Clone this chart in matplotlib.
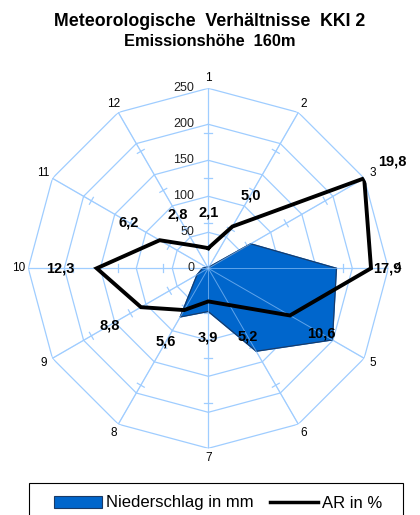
import numpy as np
import matplotlib
matplotlib.use('Agg')
import matplotlib.pyplot as plt
from matplotlib.patches import Patch, Rectangle
from matplotlib.lines import Line2D

plt.rcParams['font.family'] = ['Liberation Sans', 'DejaVu Sans']

# directions 1..12
directions = ['1', '2', '3', '4', '5', '6', '7', '8', '9', '10', '11', '12']
# Niederschlag in mm
niederschlag = [0, 2, 68, 178, 199, 133, 60, 78, 18, 8, 3, 2]
# AR line, plotted on the same 0..250 axis
ar_plot = [28, 67, 250, 226, 131, 59, 46, 67, 108, 155, 78, 36]
ar_labels = ['2,1', '5,0', '19,8', '17,9', '10,6', '5,2', '3,9', '5,6', '8,8', '12,3', '6,2', '2,8']
rings = [50, 100, 150, 200, 250]
minor_ticks = [62.5, 125, 187.5]

grid_col = '#9fcdff'
blue = '#0066cc'

fig = plt.figure(figsize=(4.2, 5.15), dpi=100)
ax = fig.add_axes([28.3 / 420, 66.7 / 515, 360 / 420, 360 / 515], projection='polar')
ax.set_theta_zero_location('N')
ax.set_theta_direction(-1)
ax.set_ylim(0, 250)
ax.grid(False)
ax.spines['polar'].set_visible(False)
ax.set_xticks([])
ax.set_yticks([])
ax.patch.set_alpha(0)

n = len(directions)
theta = np.arange(n) * 2 * np.pi / n
theta_c = np.append(theta, theta[0])

# polygon grid rings and spokes
for r in rings:
    ax.plot(theta_c, [r] * (n + 1), color=grid_col, lw=0.9, zorder=1)
for t in theta:
    ax.plot([t, t], [0, 250], color=grid_col, lw=0.9, zorder=1)
    # small cross ticks on every spoke
    for r in minor_ticks:
        h = 5.5
        dt = np.arctan(h / r)
        rr = np.hypot(r, h)
        ax.plot([t - dt, t + dt], [rr, rr], color=grid_col, lw=0.9, zorder=1)

# Niederschlag area
ns = np.append(niederschlag, niederschlag[0])
ax.fill(theta_c, ns, color=blue, zorder=2)
ax.plot(theta_c, ns, color='#1a3a66', lw=0.8, zorder=2)
# grid shows through the area like in the original
for t in theta:
    ax.plot([t, t], [0, 250], color=grid_col, lw=0.7, alpha=0.6, zorder=2.5)

# AR line
ar = np.append(ar_plot, ar_plot[0])
ax.plot(theta_c, ar, color='black', lw=2.8, solid_joinstyle='miter', zorder=3)

# data labels
for i, (t, r, lab) in enumerate(zip(theta, ar_plot, ar_labels)):
    gap = 36
    dx, dy = gap * np.sin(t), gap * np.cos(t)
    if i == 2:
        dx, dy = 28, 17
    if i == 3:
        dx, dy = 16, 0
    ax.annotate(lab, (t, r), xytext=(dx, dy), textcoords='offset pixels',
                ha='center', va='center', fontsize=10.5, fontweight='bold', zorder=5,
                annotation_clip=False)

# category labels
for t, lab in zip(theta, directions):
    ax.text(t, 264, lab, ha='center', va='center', fontsize=8.5, zorder=4)

# value axis labels
for r in [0] + rings:
    ax.annotate(str(r), (0, r), xytext=(-14, 0), textcoords='offset pixels',
                ha='right', va='center', fontsize=9, color='#222222', zorder=4)

fig.text(0.5, 1 - 22 / 515, 'Meteorologische  Verhältnisse  KKI 2', ha='center', va='center',
         fontsize=12.8, fontweight='bold')
fig.text(0.5, 1 - 42 / 515, 'Emissionshöhe  160m', ha='center', va='center',
         fontsize=11.8, fontweight='bold')

# legend with a frame that runs off the bottom
fig.add_artist(Rectangle((29 / 420, -0.02), 374 / 420, 0.02 + (515 - 483) / 515,
                         transform=fig.transFigure, fill=False, edgecolor='black', lw=0.8))
handles = [Patch(facecolor=blue, edgecolor='#1a3a66', lw=0.8, label='Niederschlag in mm'),
           Line2D([], [], color='black', lw=2.5, label='AR in %')]
fig.legend(handles=handles, loc='center', bbox_to_anchor=(218 / 420, 1 - 503 / 515), ncol=2,
           frameon=False, fontsize=12, handlelength=2.9, handleheight=0.7,
           handletextpad=0.2, columnspacing=1.0)

fig.savefig('out.png', dpi=100)
